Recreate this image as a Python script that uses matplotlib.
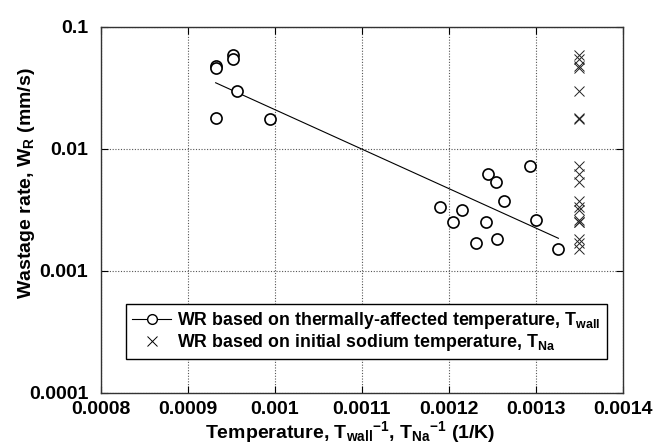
import matplotlib
matplotlib.use("Agg")
import matplotlib.pyplot as plt
from matplotlib.lines import Line2D
from matplotlib.ticker import FixedLocator, NullLocator

plt.rcParams['font.family'] = ['Liberation Sans', 'DejaVu Sans']
plt.rcParams['mathtext.fontset'] = 'custom'
plt.rcParams['mathtext.rm'] = 'Liberation Sans:bold'
plt.rcParams['mathtext.bf'] = 'Liberation Sans:bold'
plt.rcParams['mathtext.it'] = 'Liberation Sans:bold'

# WR based on thermally-affected temperature (1/Twall, WR)
inv_twall = [0.000932, 0.000932, 0.000952, 0.000952, 0.000957, 0.000932, 0.000995,
             0.001190, 0.001205, 0.001215, 0.001231, 0.001243, 0.001245, 0.001254,
             0.001255, 0.001264, 0.001293, 0.001300, 0.001326]
wr = [0.048, 0.046, 0.059, 0.0547, 0.030, 0.018, 0.0174,
      0.00331, 0.00250, 0.00313, 0.00168, 0.00250, 0.00628, 0.0053,
      0.00181, 0.00371, 0.0073, 0.00259, 0.00150]

# WR based on initial sodium temperature (1/TNa)
inv_tna = [0.00135] * len(wr)

# fitted line end points
fit_x = [0.000932, 0.001326]
fit_y = [0.0348, 0.00185]

xticks = [0.0008, 0.0009, 0.001, 0.0011, 0.0012, 0.0013, 0.0014]
xticklabels = ['0.0008', '0.0009', '0.001', '0.0011', '0.0012', '0.0013', '0.0014']
yticks = [0.0001, 0.001, 0.01, 0.1]
yticklabels = ['0.0001', '0.001', '0.01', '0.1']

fig = plt.figure(figsize=(6.59, 4.47), dpi=100)
ax = fig.add_axes([0.153, 0.121, 0.792, 0.819])

ax.plot(fit_x, fit_y, color='black', lw=0.8)
ax.plot(inv_twall, wr, linestyle='none', marker='o', ms=8, mfc='white',
        mec='black', mew=1.2)
ax.plot(inv_tna, wr, linestyle='none', marker='x', ms=7, color='#222222', mew=0.7)

ax.set_yscale('log')
ax.set_xlim(0.0008, 0.0014)
ax.set_ylim(0.0001, 0.1)
ax.xaxis.set_major_locator(FixedLocator(xticks))
ax.set_xticklabels(xticklabels)
ax.yaxis.set_major_locator(FixedLocator(yticks))
ax.yaxis.set_minor_locator(NullLocator())
ax.set_yticklabels(yticklabels)
ax.tick_params(direction='in', length=5, width=0.8, top=True, right=True,
               labelsize=14)
ax.tick_params(axis='x', pad=6)
ax.tick_params(axis='y', pad=9)
for lab in ax.get_xticklabels() + ax.get_yticklabels():
    lab.set_fontweight('bold')
ax.grid(True, which='major', linestyle=(0, (1, 1.5)), color='#555555', lw=0.8)
for s in ax.spines.values():
    s.set_linewidth(1.0)
    s.set_color('#333333')

ax.set_xlabel(r"Temperature, T$_{\mathrm{wall}}$$^{\mathrm{-1}}$, T$_{\mathrm{Na}}$$^{\mathrm{-1}}$ (1/K)",
              fontsize=14, fontweight='bold')
ax.xaxis.set_label_coords(0.477, -0.071)
ax.set_ylabel(r"Wastage rate, W$_{\mathrm{R}}$ (mm/s)", fontsize=14,
              fontweight='bold')
ax.yaxis.set_label_coords(-0.123, 0.574)

handles = [Line2D([], [], color='black', lw=0.8, marker='o', ms=7, mfc='white', mec='black', mew=1.0),
           Line2D([], [], color='black', linestyle='none', marker='x', ms=7, mew=0.7)]
labels = [r"WR based on thermally-affected temperature, T$_{\mathrm{wall}}$",
          r"WR based on initial sodium temperature, T$_{\mathrm{Na}}$"]
leg = ax.legend(handles, labels, loc='upper left', bbox_to_anchor=(0.048, 0.243),
                frameon=True, fancybox=False, edgecolor='black', framealpha=1,
                prop={'weight': 'bold', 'size': 12.8}, handlelength=2.2,
                borderpad=0.35, labelspacing=0.05, handletextpad=0.35,
                borderaxespad=0)
leg.get_frame().set_linewidth(1.0)

fig.savefig('out.png', dpi=100)
